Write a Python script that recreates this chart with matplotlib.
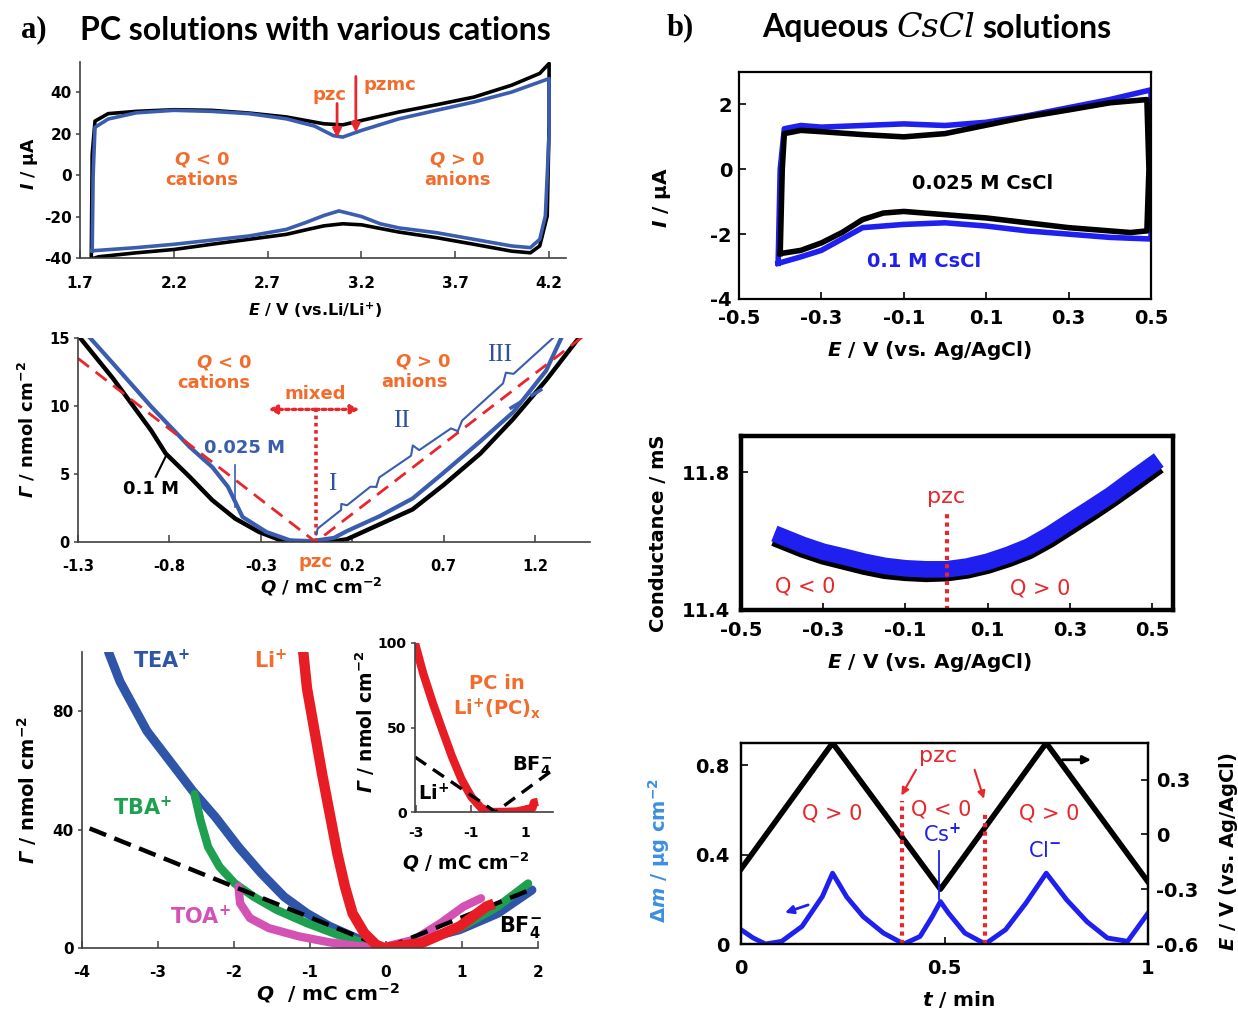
import matplotlib
matplotlib.use("Agg")
import matplotlib.pyplot as plt

plt.rcParams['font.family'] = ['DejaVu Sans']
plt.rcParams['font.weight'] = 'bold'
plt.rcParams['axes.unicode_minus'] = False
plt.rcParams['mathtext.fontset'] = 'custom'
plt.rcParams['mathtext.rm'] = 'DejaVu Sans:bold'
plt.rcParams['mathtext.it'] = 'DejaVu Sans:italic:bold'
plt.rcParams['mathtext.bf'] = 'DejaVu Sans:bold'
plt.rcParams['mathtext.sf'] = 'DejaVu Sans:italic:bold'

# ---------------- data: (a) PC solutions ----------------
# CV, 0.1 M (black) and 0.025 M (blue)
cv_E_01 = [1.76, 1.765, 1.78, 1.85, 2.0, 2.2, 2.4, 2.6, 2.8, 3.0, 3.1, 3.2, 3.4, 3.6, 3.8, 4.0, 4.15, 4.2,
           4.2, 4.19, 4.15, 4.1, 4.0, 3.8, 3.6, 3.4, 3.2, 3.1, 3.0, 2.9, 2.8, 2.6, 2.4, 2.2, 2.0, 1.8, 1.76]
cv_I_01 = [-40.5, 10, 26, 29.6, 30.7, 31.5, 31.2, 29.9, 28, 24.7, 24.2, 26.3, 30.4, 33.9, 37.6, 43.3, 49, 53.8,
           25, -19.7, -34.2, -37.5, -36.7, -33.4, -30.2, -27.5, -24.0, -23.5, -24.5, -26.5, -28.6, -31, -33.4,
           -35.9, -37.5, -39.4, -40.5]
cv_E_0025 = [1.765, 1.77, 1.78, 1.85, 2.0, 2.2, 2.4, 2.6, 2.8, 2.95, 3.05, 3.1, 3.2, 3.4, 3.6, 3.8, 4.0, 4.2,
             4.2, 4.18, 4.15, 4.1, 4.0, 3.8, 3.6, 3.4, 3.3, 3.2, 3.08, 3.0, 2.9, 2.8, 2.6, 2.4, 2.2, 2.0, 1.8, 1.765]
cv_I_0025 = [-36.5, 0, 23, 27, 30, 31.2, 30.7, 29.6, 27.1, 23.6, 19, 18.3, 21.5, 27.1, 31.2, 35.2, 40, 46.5,
             20, -19.7, -31, -35, -34.2, -31, -27.8, -25.5, -23.5, -20, -17.3, -19.5, -23, -26.2, -29.4, -31.4,
             -33.4, -35, -36.3, -36.5]

# Surface excess vs charge
g_Q_01 = [-1.3, -1.11, -0.9, -0.82, -0.69, -0.565, -0.44, -0.31, -0.19, -0.06, 0.0, 0.1, 0.17, 0.35, 0.53,
          0.7, 0.9, 1.08, 1.26, 1.45]
g_G_01 = [15.2, 12.05, 8.2, 6.5, 4.8, 3.07, 1.72, 0.74, 0.12, 0.0, 0.0, 0.05, 0.2, 1.3, 2.4, 4.2, 6.5, 9.05,
          11.9, 15.2]
g_Q_0025 = [-1.26, -1.11, -0.9, -0.69, -0.565, -0.48, -0.4, -0.27, -0.14, -0.02, 0.1, 0.17, 0.35, 0.53, 0.7,
            0.9, 1.08, 1.26, 1.35]
g_G_0025 = [15.4, 13.15, 9.96, 7.0, 5.5, 4.06, 1.84, 0.74, 0.12, 0.07, 0.3, 0.8, 1.9, 3.2, 5.1, 7.4, 9.55,
            12.6, 15.2]
faraday_Q = [-1.3, 0.0, 1.5]
faraday_G = [13.5, 0.0, 15.5]
extrap_Q = [1.06, 1.27]
extrap_G = [9.8, 11.5]
# braces along the anion branch: start, end, tip
brace_start = [(0.003, 0.55), (0.331, 4.05), (0.777, 8.15)]
brace_end = [(0.331, 4.05), (0.777, 8.15), (1.351, 15.16)]
brace_tip = [(0.14, 2.8), (0.531, 7.1), (1.04, 12.45)]
regime_names = ['I', 'II', 'III']
regime_pos = [(0.093, 4.3), (0.468, 8.9), (1.005, 13.75)]

# Cation series
tea_Q = [-3.65, -3.5, -3.146, -2.845, -2.544, -2.243, -1.94, -1.64, -1.34, -1.04, -0.74, -0.44, -0.185, -0.03,
         0.47, 0.97, 1.47, 1.92]
tea_G = [99.9, 90, 73.3, 63.2, 53.1, 44.2, 34.1, 25.2, 17.3, 11.7, 7.3, 3.9, 1.1, 0.0, 2.8, 6.2, 11.7, 19.6]
tba_Q = [-2.52, -2.44, -2.34, -2.19, -1.99, -1.74, -1.44, -1.04, -0.64, -0.285, -0.03, 0.47, 0.97, 1.47, 1.87]
tba_G = [52, 43, 34.1, 27.4, 21.8, 17.3, 12.9, 8.4, 4.5, 1.7, 0.0, 2.8, 6.7, 14, 21.8]
toa_Q = [-1.94, -1.92, -1.79, -1.54, -1.14, -0.74, -0.34, -0.08, 0.37, 0.72, 1.02, 1.25]
toa_G = [20.7, 15.1, 10.1, 6.7, 3.9, 1.9, 0.56, 0.0, 2.8, 8.4, 14, 16.8]
li_Q = [-1.09, -1.04, -0.94, -0.84, -0.74, -0.64, -0.54, -0.44, -0.285, -0.13, -0.03, 0.47, 0.97, 1.32, 1.42]
li_G = [100.3, 87.8, 73.3, 58.7, 45.3, 31.9, 20.7, 11.7, 5.0, 1.1, 0.0, 1.7, 7.3, 14, 15]
ion_Q = [-3.9, 0.0, 1.95]
ion_G = [40.4, 0.0, 20.2]
# inset: PC in Li+(PC)x
pc_Q = [-3.05, -2.75, -2.4, -2.05, -1.69, -1.34, -0.99, -0.63, -0.28, 0.18, 0.67, 1.03, 1.25, 1.3, 1.45]
pc_G = [99.8, 82, 64.5, 48.5, 32.5, 19, 9, 2.4, 0.0, 0.0, 0.3, 1.5, 2.5, 5.5, 6.0]
inset_ion_Q = [-3.05, -0.1, 2.0]
inset_ion_G = [32.5, 0.0, 25.0]

# ---------------- data: (b) aqueous CsCl ----------------
cs_E_0025 = [-0.4, -0.395, -0.39, -0.35, -0.3, -0.2, -0.1, 0.0, 0.1, 0.2, 0.3, 0.4, 0.49, 0.495, 0.49, 0.45,
             0.4, 0.3, 0.2, 0.1, 0.0, -0.1, -0.15, -0.2, -0.25, -0.3, -0.35, -0.4]
cs_I_0025 = [-2.6, 0.0, 1.1, 1.2, 1.16, 1.07, 1.0, 1.1, 1.36, 1.62, 1.83, 2.05, 2.15, 0.0, -1.9, -1.95,
             -1.9, -1.8, -1.65, -1.5, -1.4, -1.3, -1.35, -1.55, -1.95, -2.27, -2.5, -2.6]
cs_E_01 = [-0.405, -0.4, -0.39, -0.35, -0.3, -0.2, -0.1, 0.0, 0.1, 0.2, 0.3, 0.4, 0.5, 0.5, 0.5, 0.4, 0.3,
           0.2, 0.1, 0.0, -0.1, -0.2, -0.3, -0.35, -0.405]
cs_I_01 = [-2.9, 0.0, 1.25, 1.35, 1.3, 1.35, 1.4, 1.35, 1.45, 1.65, 1.9, 2.15, 2.45, 0.0, -2.15, -2.1, -2.0,
           -1.9, -1.75, -1.65, -1.7, -1.8, -2.5, -2.7, -2.9]

cond_E = [-0.4, -0.35, -0.3, -0.25, -0.2, -0.15, -0.1, -0.05, 0.0, 0.05, 0.1, 0.15, 0.2, 0.25, 0.3, 0.35,
          0.4, 0.45, 0.5]
cond_01 = [11.613, 11.589, 11.569, 11.555, 11.540, 11.528, 11.521, 11.518, 11.518, 11.526, 11.540, 11.560,
           11.584, 11.618, 11.657, 11.695, 11.734, 11.778, 11.821]
cond_0025 = [11.600, 11.576, 11.556, 11.541, 11.526, 11.514, 11.508, 11.505, 11.507, 11.515, 11.529, 11.548,
             11.571, 11.604, 11.642, 11.680, 11.720, 11.762, 11.805]

eqcm_t = [0.0, 0.03, 0.06, 0.1, 0.15, 0.2, 0.225, 0.26, 0.3, 0.35, 0.4, 0.44, 0.47, 0.49, 0.51, 0.55, 0.6,
          0.65, 0.7, 0.75, 0.8, 0.85, 0.9, 0.95, 1.0]
eqcm_dm = [0.064, 0.027, 0.0, 0.012, 0.079, 0.213, 0.317, 0.21, 0.123, 0.049, 0.0, 0.034, 0.123, 0.19, 0.138,
           0.049, 0.0, 0.064, 0.183, 0.317, 0.198, 0.10, 0.027, 0.012, 0.138]
sweep_t = [0.0, 0.225, 0.49, 0.75, 1.0]
sweep_E = [-0.19, 0.5, -0.30, 0.5, -0.26]
pzc_t = [0.395, 0.60]
pzc_top = [0.64, 0.585]

# ---------------- style ----------------
ORANGE = '#f26d2d'
RED = '#e8262b'
A_BLUE = '#3a5db0'
B_BLUE = '#1f1ff0'
TEA_C = '#2f55a8'
TBA_C = '#1ea050'
TOA_C = '#d452b4'
LI_C = '#e81c24'
ROMAN_C = '#2f4fa0'
DM_C = '#3d8fe0'

W, H = 1238, 1011
fig = plt.figure(figsize=(W / 100, H / 100), dpi=100)


def rect(l, t, r, b):
    return [l / W, 1 - b / H, (r - l) / W, (b - t) / H]


def flab(x, y, s, rot=0, size=14, color='black', **kw):
    fig.text(x / W, 1 - y / H, s, rotation=rot, ha='center', va='center', fontsize=size, color=color,
             fontweight='bold', **kw)


def open_axes(ax, xpad=11, ypad=3, labelsize=11):
    for s in ('top', 'right'):
        ax.spines[s].set_visible(False)
    for s in ('left', 'bottom'):
        ax.spines[s].set_color('#404040')
        ax.spines[s].set_linewidth(1.2)
    ax.tick_params(axis='x', direction='in', length=5, width=1.1, pad=xpad, labelsize=labelsize,
                   color='#404040')
    ax.tick_params(axis='y', direction='out', length=3, width=1.1, pad=ypad, labelsize=labelsize,
                   color='#404040')


def boxed_axes(ax, lw=1.6, labelsize=14, xpad=7, ypad=5):
    for s in ax.spines.values():
        s.set_linewidth(lw)
        s.set_color('black')
    ax.tick_params(direction='in', length=5, width=1.2, labelsize=labelsize)
    ax.tick_params(axis='x', pad=xpad)
    ax.tick_params(axis='y', pad=ypad)


def txt(ax, x, y, s, color, size=13, weight='bold', **kw):
    ax.text(x, y, s, color=color, fontsize=size, ha='center', va='center', fontweight=weight, **kw)


# ---------- (a) top: cyclic voltammograms ----------
ax1 = fig.add_axes(rect(80, 62, 566, 258))
ax1.plot(cv_E_01, cv_I_01, color='black', lw=2.6)
ax1.plot(cv_E_0025, cv_I_0025, color=A_BLUE, lw=2.6)
ax1.set_xlim(1.7, 4.29)
ax1.set_ylim(-40, 54.5)
ax1.set_xticks([1.7, 2.2, 2.7, 3.2, 3.7, 4.2])
ax1.set_yticks([-40, -20, 0, 20, 40])
open_axes(ax1, xpad=13)
ax1.annotate('', xy=(3.07, 18.0), xytext=(3.07, 34.5),
             arrowprops=dict(arrowstyle='-|>', color=RED, lw=2, mutation_scale=13, shrinkA=0, shrinkB=0))
ax1.annotate('', xy=(3.17, 20.5), xytext=(3.17, 47.5),
             arrowprops=dict(arrowstyle='-|>', color=RED, lw=2, mutation_scale=13, shrinkA=0, shrinkB=0))
txt(ax1, 3.03, 38.4, 'pzc', ORANGE)
txt(ax1, 3.35, 43.6, 'pzmc', ORANGE)
txt(ax1, 2.35, 7.5, r'$Q$ < 0', ORANGE)
txt(ax1, 2.35, -2.5, 'cations', ORANGE)
txt(ax1, 3.71, 7.5, r'$Q$ > 0', ORANGE)
txt(ax1, 3.71, -2.5, 'anions', ORANGE)
flab(30, 163, r'$I$ / μA', rot=90, size=12.5)
flab(315, 310, r'$E$ / V (vs.Li/Li$^{+}$)', size=11.5)

# ---------- (a) middle: surface excess vs charge ----------
ax2 = fig.add_axes(rect(78, 338, 590, 542))
ax2.plot(g_Q_01, g_G_01, color='black', lw=3.2)
ax2.plot(g_Q_0025, g_G_0025, color=A_BLUE, lw=3.0)
ax2.plot(faraday_Q, faraday_G, color=RED, lw=2.0, dashes=(5, 3))
ax2.plot(extrap_Q, extrap_G, color=A_BLUE, lw=2.5, dashes=(4, 3))
ax2.set_xlim(-1.3, 1.5)
ax2.set_ylim(0, 15)
ax2.set_xticks([-1.3, -0.8, -0.3, 0.2, 0.7, 1.2])
ax2.set_yticks([0, 5, 10, 15])
open_axes(ax2, xpad=12, labelsize=10.5)
ax2.plot([0, 0], [0, 9.7], color=RED, lw=2.6, ls=(0, (1, 1)))
for xe in (-0.26, 0.24):
    ax2.annotate('', xy=(xe, 9.75), xytext=(0, 9.75),
                 arrowprops=dict(arrowstyle='-|>', color=RED, lw=2.4, ls=(0, (1, 1)), mutation_scale=12,
                                 shrinkA=0, shrinkB=0))
txt(ax2, 0.0, 10.9, 'mixed', ORANGE)
txt(ax2, 0.0, -1.45, 'pzc', ORANGE, clip_on=False)
txt(ax2, -0.5, 13.2, r'$Q$ < 0', ORANGE)
txt(ax2, -0.555, 11.7, 'cations', ORANGE)
txt(ax2, 0.59, 13.3, r'$Q$ > 0', ORANGE)
txt(ax2, 0.54, 11.8, 'anions', ORANGE)
txt(ax2, -0.39, 6.9, '0.025 M', A_BLUE)
ax2.plot([-0.44, -0.44], [5.65, 2.6], color=A_BLUE, lw=1.2)
txt(ax2, -0.9, 3.9, '0.1 M', 'black')
ax2.plot([-0.875, -0.82], [4.8, 6.3], color='black', lw=1.5)
for (q0, g0), (q1, g1), (qt, gt) in zip(brace_start, brace_end, brace_tip):
    qm, gm = (q0 + q1) / 2, (g0 + g1) / 2
    dq, dg = (q1 - q0), (g1 - g0)
    vq, vg = (qt - qm) * 0.45, (gt - gm) * 0.45
    xs = [q0, q0 + vq + 0.06 * dq, qm + vq - 0.05 * dq, qt, qm + vq + 0.05 * dq, q1 + vq - 0.06 * dq, q1]
    ys = [g0, g0 + vg + 0.06 * dg, gm + vg - 0.05 * dg, gt, gm + vg + 0.05 * dg, g1 + vg - 0.06 * dg, g1]
    ax2.plot(xs, ys, color=A_BLUE, lw=1.5)
for name, (qx, gy) in zip(regime_names, regime_pos):
    txt(ax2, qx, gy, name, ROMAN_C, size=18, weight='normal', family='Liberation Serif')
flab(27, 430, r'$\mathsf{\Gamma}$ / nmol cm$^{-2}$', rot=90, size=13)
flab(321, 587, r'$Q$ / mC cm$^{-2}$', size=13)

# ---------- (a) bottom: cation comparison ----------
ax3 = fig.add_axes(rect(82, 652, 538, 948))
ax3.plot(tea_Q, tea_G, color=TEA_C, lw=6.5, solid_capstyle='round')
ax3.plot(tba_Q, tba_G, color=TBA_C, lw=6, solid_capstyle='round')
ax3.plot(toa_Q, toa_G, color=TOA_C, lw=6, solid_capstyle='round')
ax3.plot(ion_Q, ion_G, color='black', lw=3.2, dashes=(4, 2))
ax3.plot(li_Q, li_G, color=LI_C, lw=7.5, solid_capstyle='butt')
ax3.set_xlim(-4, 2)
ax3.set_ylim(0, 100)
ax3.set_xticks([-4, -3, -2, -1, 0, 1, 2])
ax3.set_yticks([0, 40, 80])
open_axes(ax3, xpad=12)
txt(ax3, -2.95, 97, r'TEA$^{+}$', TEA_C, size=15)
txt(ax3, -1.52, 97, r'Li$^{+}$', ORANGE, size=15)
txt(ax3, -3.2, 47.5, r'TBA$^{+}$', TBA_C, size=15)
txt(ax3, -2.44, 10.5, r'TOA$^{+}$', TOA_C, size=15)
txt(ax3, 1.77, 7.0, r'BF$_{4}^{-}$', 'black', size=15)
flab(27, 790, r'$\mathsf{\Gamma}$ / nmol cm$^{-2}$', rot=90, size=14)
flab(328, 993, r'$Q$  / mC cm$^{-2}$', size=14.5)

axi = fig.add_axes(rect(415, 643, 553, 812))
axi.plot(pc_Q, pc_G, color=LI_C, lw=6, solid_capstyle='butt')
axi.plot(inset_ion_Q, inset_ion_G, color='black', lw=2.4, dashes=(4, 2.5))
axi.set_xlim(-3.05, 2.0)
axi.set_ylim(0, 100)
axi.set_xticks([-3, -1, 1])
axi.set_yticks([0, 50, 100])
open_axes(axi, xpad=10, labelsize=10)
axi.patch.set_alpha(0)
txt(axi, -2.35, 11, r'Li$^{+}$', 'black', size=14)
txt(axi, 1.25, 27, r'BF$_{4}^{-}$', 'black', size=14)
txt(axi, -0.05, 76, 'PC in', ORANGE, size=14)
txt(axi, -0.05, 61, r'Li$^{+}$(PC)$_{\rm x}$', ORANGE, size=14)
flab(365, 722, r'$\mathsf{\Gamma}$ / nmol cm$^{-2}$', rot=90, size=13.5)
flab(466, 862, r'$Q$ / mC cm$^{-2}$', size=13.5)

# ---------- (b) top: CV in CsCl ----------
bx1 = fig.add_axes(rect(739, 72, 1151, 299))
bx1.plot(cs_E_01, cs_I_01, color=B_BLUE, lw=4)
bx1.plot(cs_E_0025, cs_I_0025, color='black', lw=4)
bx1.set_xlim(-0.5, 0.5)
bx1.set_ylim(-4, 3)
bx1.set_xticks([-0.5, -0.3, -0.1, 0.1, 0.3, 0.5])
bx1.set_yticks([-4, -2, 0, 2])
boxed_axes(bx1, lw=1.6)
txt(bx1, 0.09, -0.45, '0.025 M CsCl', 'black', size=14)
txt(bx1, -0.05, -2.85, '0.1 M CsCl', B_BLUE, size=14)
flab(662, 197, r'$I$ / μA', rot=90, size=14.5)
flab(930, 350, r'$E$ / V (vs. Ag/AgCl)', size=14.5)

# ---------- (b) middle: conductance ----------
bx2 = fig.add_axes(rect(741, 436, 1173, 610))
bx2.plot(cond_E, cond_0025, color='black', lw=12)
bx2.plot(cond_E, cond_01, color=B_BLUE, lw=12)
bx2.set_xlim(-0.5, 0.551)
bx2.set_ylim(11.4, 11.905)
bx2.set_xticks([-0.5, -0.3, -0.1, 0.1, 0.3, 0.5])
bx2.set_yticks([11.4, 11.8])
boxed_axes(bx2, lw=3.2, xpad=8, ypad=8)
bx2.plot([0, 0], [11.4, 11.68], color=RED, lw=3, ls=(0, (1, 1)))
txt(bx2, 0.0, 11.727, 'pzc', RED, size=16, weight='normal')
txt(bx2, -0.343, 11.468, 'Q < 0', RED, size=15, weight='normal')
txt(bx2, 0.228, 11.463, 'Q > 0', RED, size=15, weight='normal')
flab(659, 533, 'Conductance / mS', rot=90, size=14)
flab(930, 662, r'$E$ / V (vs. Ag/AgCl)', size=14.5)

# ---------- (b) bottom: EQCM mass change and potential sweep ----------
bx3 = fig.add_axes(rect(741, 743, 1148, 944))
bx3r = bx3.twinx()
bx3r.plot(sweep_t, sweep_E, color='black', lw=4)
bx3.plot(eqcm_t, eqcm_dm, color=B_BLUE, lw=3.5)
bx3.set_zorder(bx3r.get_zorder() + 1)
bx3.patch.set_visible(False)
bx3.set_xlim(0, 1)
bx3.set_ylim(0, 0.9)
bx3r.set_ylim(-0.6, 0.5)
bx3.set_xticks([0, 0.5, 1])
bx3.set_xticklabels(['0', '0.5', '1'])
bx3.set_yticks([0, 0.4, 0.8])
bx3.set_yticklabels(['0', '0.4', '0.8'])
bx3r.set_yticks([-0.6, -0.3, 0, 0.3])
bx3r.set_yticklabels(['-0.6', '-0.3', '0', '0.3'])
boxed_axes(bx3, lw=1.6, xpad=11, ypad=8)
boxed_axes(bx3r, lw=1.6, ypad=6)
for tt, top in zip(pzc_t, pzc_top):
    bx3.plot([tt, tt], [0, top], color=RED, lw=3, ls=(0, (1, 1)))
txt(bx3, 0.484, 0.84, 'pzc', RED, size=16, weight='normal')
bx3.annotate('', xy=(0.394, 0.665), xytext=(0.43, 0.78),
             arrowprops=dict(arrowstyle='-|>', color=RED, lw=1.5, mutation_scale=11, shrinkA=0, shrinkB=0))
bx3.annotate('', xy=(0.597, 0.65), xytext=(0.574, 0.78),
             arrowprops=dict(arrowstyle='-|>', color=RED, lw=1.5, mutation_scale=11, shrinkA=0, shrinkB=0))
txt(bx3, 0.225, 0.584, 'Q > 0', RED, size=15, weight='normal')
txt(bx3, 0.493, 0.60, 'Q < 0', RED, size=15, weight='normal')
txt(bx3, 0.757, 0.584, 'Q > 0', RED, size=15, weight='normal')
txt(bx3, 0.493, 0.49, r'Cs$^{+}$', B_BLUE, size=15, weight='normal')
bx3.plot([0.487, 0.487], [0.415, 0.2], color=B_BLUE, lw=1.3)
txt(bx3, 0.745, 0.415, r'Cl$^{-}$', B_BLUE, size=15, weight='normal')
bx3.annotate('', xy=(0.86, 0.825), xytext=(0.79, 0.825),
             arrowprops=dict(arrowstyle='-|>', color='black', lw=2, mutation_scale=12, shrinkA=0, shrinkB=0))
bx3.annotate('', xy=(0.108, 0.14), xytext=(0.165, 0.175),
             arrowprops=dict(arrowstyle='-|>', color=B_BLUE, lw=2, mutation_scale=12, shrinkA=0, shrinkB=0))
flab(659, 850, r'Δ$m$ / μg cm$^{-2}$', rot=90, size=14, color=DM_C)
flab(1228, 852, r'$E$ / V (vs. Ag/AgCl)', rot=90, size=14)
flab(959, 1000, r'$t$ / min', size=14.5)

# ---------- panel titles ----------
fig.text(34 / W, 1 - 30 / H, 'a)', fontsize=22, family='Liberation Serif', fontweight='bold',
         ha='center', va='center')
fig.text(80 / W, 1 - 30 / H, 'PC solutions with various cations', fontsize=23, family=['Lato', 'DejaVu Sans'],
         fontweight='bold', ha='left', va='center')
fig.text(680 / W, 1 - 28 / H, 'b)', fontsize=22, family='Liberation Serif', fontweight='bold',
         ha='center', va='center')
fig.text(762 / W, 1 - 28 / H, 'Aqueous', fontsize=23, family=['Lato', 'DejaVu Sans'],
         fontweight='bold', ha='left', va='center')
fig.text(897 / W, 1 - 28 / H, 'CsCl', fontsize=24, family='DejaVu Serif', style='italic',
         fontweight='normal', ha='left', va='center')
fig.text(982 / W, 1 - 28 / H, 'solutions', fontsize=23, family=['Lato', 'DejaVu Sans'],
         fontweight='bold', ha='left', va='center')

fig.savefig('out.png', dpi=100)
